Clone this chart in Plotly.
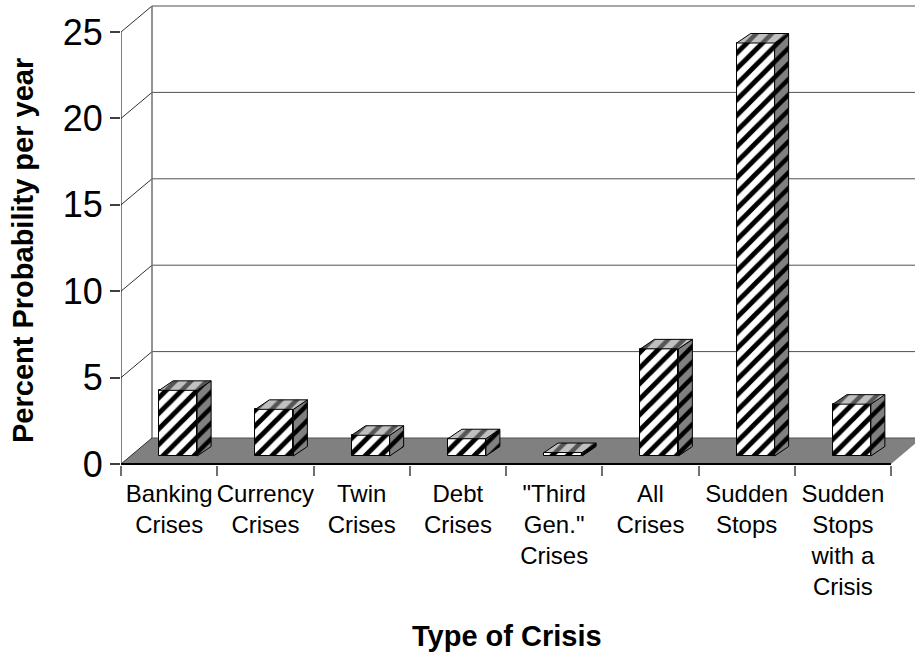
import plotly.graph_objects as go

# ---- data ----
categories = ["Banking<br>Crises", "Currency<br>Crises", "Twin<br>Crises", "Debt<br>Crises",
              "\"Third<br>Gen.\"<br>Crises", "All<br>Crises", "Sudden<br>Stops",
              "Sudden<br>Stops<br>with a<br>Crisis"]
values = [3.8, 2.7, 1.2, 1.0, 0.2, 6.2, 23.9, 3.0]
y_ticks = [0, 5, 10, 15, 20, 25]
x_title = "Type of Crisis"
y_title = "Percent Probability per year"

# ---- geometry (pixels -> data units) ----
W, H = 915, 656
LEFT = 121          # pixel x of the front y-axis
ZERO = 464          # pixel y of value 0 (front)
PLOT_H = ZERO + 1
PLOT_W = W - LEFT
PX_X = 96.25        # pixels per category
PX_Y = 17.28        # pixels per unit
n = len(values)

def dx(p):
    return p / PX_X

def dy(p):
    return p / PX_Y

floor_dx, floor_dy = dx(31), dy(26)
front_dx, front_dy = dx(9), dy(8)
bar_dx, bar_dy = dx(14), dy(9.5)
half_w = dx(19)

x_min = -0.5
x_max = x_min + PLOT_W / PX_X
y_min = -dy(1)
y_max = ZERO / PX_Y

centers = [i + front_dx for i in range(n)]

# ---- bar faces ----
side_x, side_y, top_x, top_y = [], [], [], []
for c, v in zip(centers, values):
    b = front_dy
    side_x += [c + half_w, c + half_w + bar_dx, c + half_w + bar_dx, c + half_w, c + half_w, None]
    side_y += [b, b + bar_dy, b + v + bar_dy, b + v, b, None]
    top_x += [c - half_w, c - half_w + bar_dx, c + half_w + bar_dx, c + half_w, c - half_w, None]
    top_y += [b + v, b + v + bar_dy, b + v + bar_dy, b + v, b + v, None]

fig = go.Figure()

fig.add_trace(go.Bar(
    x=centers, y=values, base=front_dy, width=2 * half_w,
    marker=dict(color="white",
                line=dict(color="black", width=1),
                pattern=dict(shape="/", fgcolor="black", bgcolor="white",
                             size=11, solidity=0.45, fgopacity=1)),
    hoverinfo="skip", showlegend=False))

fig.add_trace(go.Scatter(
    x=side_x, y=side_y, mode="lines", fill="toself",
    fillcolor="#808080",
    fillpattern=dict(shape="/", fgcolor="black", bgcolor="#808080", size=11, solidity=0.4),
    line=dict(color="black", width=1), hoverinfo="skip", showlegend=False))

fig.add_trace(go.Scatter(
    x=top_x, y=top_y, mode="lines", fill="toself",
    fillcolor="#c0c0c0",
    fillpattern=dict(shape="/", fgcolor="#555555", bgcolor="#c0c0c0", size=11, solidity=0.4),
    line=dict(color="black", width=1), hoverinfo="skip", showlegend=False))

# ---- walls / floor ----
shapes = []
shapes.append(dict(type="path", xref="x", yref="y", layer="below",
                   path=f"M {x_min},0 L {n + x_min},0 L {n + x_min + floor_dx},{floor_dy} "
                        f"L {x_min + floor_dx},{floor_dy} Z",
                   fillcolor="#808080", line=dict(width=0)))
for t in y_ticks:
    shapes.append(dict(type="line", xref="x", yref="y", layer="below",
                       x0=x_min + floor_dx, y0=t + floor_dy, x1=x_max + 1, y1=t + floor_dy,
                       line=dict(color="#505050", width=1)))
    shapes.append(dict(type="line", xref="x", yref="y", layer="below",
                       x0=x_min, y0=t, x1=x_min + floor_dx, y1=t + floor_dy,
                       line=dict(color="#303030", width=1)))
shapes.append(dict(type="line", xref="x", yref="y", layer="below",
                   x0=x_min + floor_dx, y0=floor_dy, x1=x_min + floor_dx, y1=y_ticks[-1] + floor_dy,
                   line=dict(color="#707070", width=1.5)))
shapes.append(dict(type="line", xref="x", yref="y", layer="below",
                   x0=x_min, y0=0, x1=x_min, y1=y_ticks[-1],
                   line=dict(color="black", width=1)))
shapes.append(dict(type="line", xref="x", yref="y", layer="below",
                   x0=x_min, y0=0, x1=n + x_min, y1=0,
                   line=dict(color="black", width=2)))

FONT = "Liberation Sans, Arial, sans-serif"

annotations = [
    dict(text=f"<b>{x_title}</b>", xref="paper", yref="paper",
         x=(507 - LEFT) / PLOT_W, y=(PLOT_H - 636) / PLOT_H,
         xanchor="center", yanchor="middle", showarrow=False,
         font=dict(family=FONT, size=29, color="black")),
    dict(text=f"<b>{y_title}</b>", xref="paper", yref="paper",
         x=(23 - LEFT) / PLOT_W, y=(PLOT_H - 251) / PLOT_H,
         xanchor="center", yanchor="middle", showarrow=False, textangle=-90,
         font=dict(family=FONT, size=29, color="black")),
]

fig.update_layout(
    width=W, height=H,
    template="none",
    paper_bgcolor="white", plot_bgcolor="white",
    margin=dict(l=LEFT, r=0, t=0, b=H - PLOT_H),
    showlegend=False,
    bargap=0,
    shapes=shapes,
    annotations=annotations,
    font=dict(family=FONT, color="black"),
    xaxis=dict(range=[x_min, x_max], showgrid=False, zeroline=False, showline=False,
               automargin=False, fixedrange=True,
               tickmode="array", tickvals=list(range(n)), ticktext=categories,
               ticks="outside", ticklen=7, tickcolor="rgba(0,0,0,0)",
               tickfont=dict(family=FONT, size=24, color="black"),
               minor=dict(tickmode="array", tickvals=[i + x_min for i in range(n + 1)],
                          ticks="outside", ticklen=10, tickwidth=1.5, tickcolor="#707070",
                          showgrid=False)),
    yaxis=dict(range=[y_min, y_max], showgrid=False, zeroline=False, showline=False,
               automargin=False, fixedrange=True,
               tickmode="array", tickvals=y_ticks, ticks="outside", ticklen=10,
               tickwidth=1.5, tickcolor="#404040",
               tickfont=dict(family=FONT, size=36, color="black")),
)

fig.write_html("out.html", config={"displayModeBar": False},
               post_script="document.body.style.margin='0';")
